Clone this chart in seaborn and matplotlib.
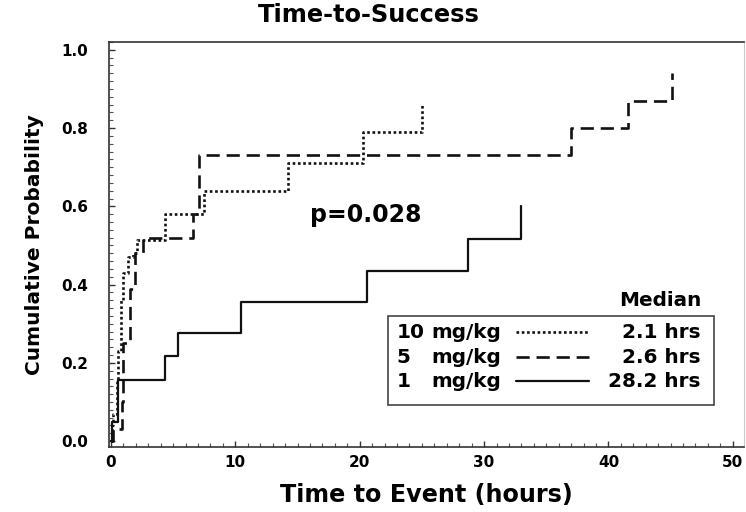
import matplotlib
matplotlib.use("Agg")
import matplotlib.pyplot as plt
from matplotlib.ticker import MultipleLocator
from matplotlib.patches import Rectangle
from matplotlib.lines import Line2D
import seaborn as sns
import pandas as pd

# ---- data ----
dose_labels = ["10 mg/kg", "5 mg/kg", "1 mg/kg"]
dose_numbers = ["10", "5", "1"]
medians = ["2.1 hrs", "2.6 hrs", "28.2 hrs"]

t_10 = [0, 0.05, 0.2, 0.5, 0.55, 0.8, 1.0, 1.4, 1.8, 2.1, 4.35, 7.5, 14.2, 20.3, 25.0]
p_10 = [0, 0.04, 0.07, 0.15, 0.23, 0.36, 0.43, 0.47, 0.48, 0.515, 0.58, 0.64, 0.71, 0.79, 0.86]

t_5 = [0, 0.15, 0.85, 1.0, 1.55, 1.95, 2.6, 6.6, 7.1, 37.0, 41.6, 45.1]
p_5 = [0, 0.03, 0.10, 0.25, 0.39, 0.48, 0.52, 0.58, 0.73, 0.80, 0.87, 0.94]

t_1 = [0, 0.1, 0.6, 4.35, 5.4, 10.45, 20.6, 28.7, 33.0]
p_1 = [0, 0.05, 0.156, 0.217, 0.276, 0.355, 0.436, 0.516, 0.60]

p_value_text = "p=0.028"
x_ticks = [0, 10, 20, 30, 40, 50]
y_ticks = [0.0, 0.2, 0.4, 0.6, 0.8, 1.0]

# ---- figure ----
sns.set_theme(style="ticks")
plt.rcParams["font.family"] = ["DejaVu Sans"]
plt.rcParams["text.color"] = "black"
plt.rcParams["axes.labelcolor"] = "black"
plt.rcParams["xtick.color"] = "black"
plt.rcParams["ytick.color"] = "black"

fig = plt.figure(figsize=(7.46, 5.12), dpi=100)
ax = fig.add_axes([109 / 746, 1 - 447 / 512, 635 / 746, 405 / 512])

col = "#111111"
styles = [
    dict(linestyle=(0, (1.0, 1.0)), linewidth=1.9),
    dict(linestyle=(0, (5.0, 2.6)), linewidth=1.9),
    dict(linestyle="-", linewidth=1.6),
]
series = [(t_10, p_10), (t_5, p_5), (t_1, p_1)]

for (t, p), lab, st in zip(series, dose_labels, styles):
    df = pd.DataFrame({"t": t, "p": p})
    sns.lineplot(data=df, x="t", y="p", ax=ax, drawstyle="steps-post",
                 estimator=None, sort=False, color=col, legend=False, **st)

ax.set_xlim(-0.16, 50.9)
ax.set_ylim(-0.015, 1.02)
ax.set_xticks(x_ticks)
ax.set_yticks(y_ticks)
ax.set_xticklabels([str(v) for v in x_ticks], fontweight="bold", fontsize=11)
ax.set_yticklabels([f"{v:.1f}" for v in y_ticks], fontweight="bold", fontsize=11)
ax.xaxis.set_minor_locator(MultipleLocator(1))
ax.yaxis.set_minor_locator(MultipleLocator(0.02))
ax.tick_params(which="major", direction="in", length=4, width=1, color="#333333")
ax.tick_params(which="minor", direction="in", length=3, width=0.8, color="#555555")
ax.tick_params(axis="x", which="major", pad=6)
ax.tick_params(axis="y", which="major", pad=15)

for s in ax.spines.values():
    s.set_color("#333333")
    s.set_linewidth(1.2)
ax.spines["right"].set_color("#cccccc")
ax.spines["right"].set_linewidth(0.8)

ax.set_xlabel("Time to Event (hours)", fontsize=17.2, fontweight="bold", labelpad=9)
ax.set_ylabel("Cumulative Probability", fontsize=14.5, fontweight="bold", labelpad=12)
fig.text(369 / 746, 1 - 15 / 512, "Time-to-Success", ha="center", va="center",
         fontsize=17.4, fontweight="bold")

ax.text(20.5, 0.578, p_value_text, ha="center", va="center",
        fontsize=17, fontweight="bold")

# ---- manual legend ----
ax.add_patch(Rectangle((0.439, 0.104), 0.514, 0.219, transform=ax.transAxes,
                       fill=False, edgecolor="#444444", linewidth=1.2))
ax.text(0.868, 0.362, "Median", transform=ax.transAxes, ha="center", va="center",
        fontsize=14.4, fontweight="bold")
row_y = [0.283, 0.222, 0.162]
for num, med, st, yy in zip(dose_numbers, medians, styles, row_y):
    ax.text(0.453, yy, num, transform=ax.transAxes, ha="left", va="center",
            fontsize=14.4, fontweight="bold")
    ax.text(0.508, yy, "mg/kg", transform=ax.transAxes, ha="left", va="center",
            fontsize=14.4, fontweight="bold")
    ax.add_line(Line2D([0.641, 0.756], [yy, yy], transform=ax.transAxes,
                       color=col, **st))
    ax.text(0.931, yy, med, transform=ax.transAxes, ha="right", va="center",
            fontsize=14.4, fontweight="bold")

fig.savefig("out.png", dpi=100)
